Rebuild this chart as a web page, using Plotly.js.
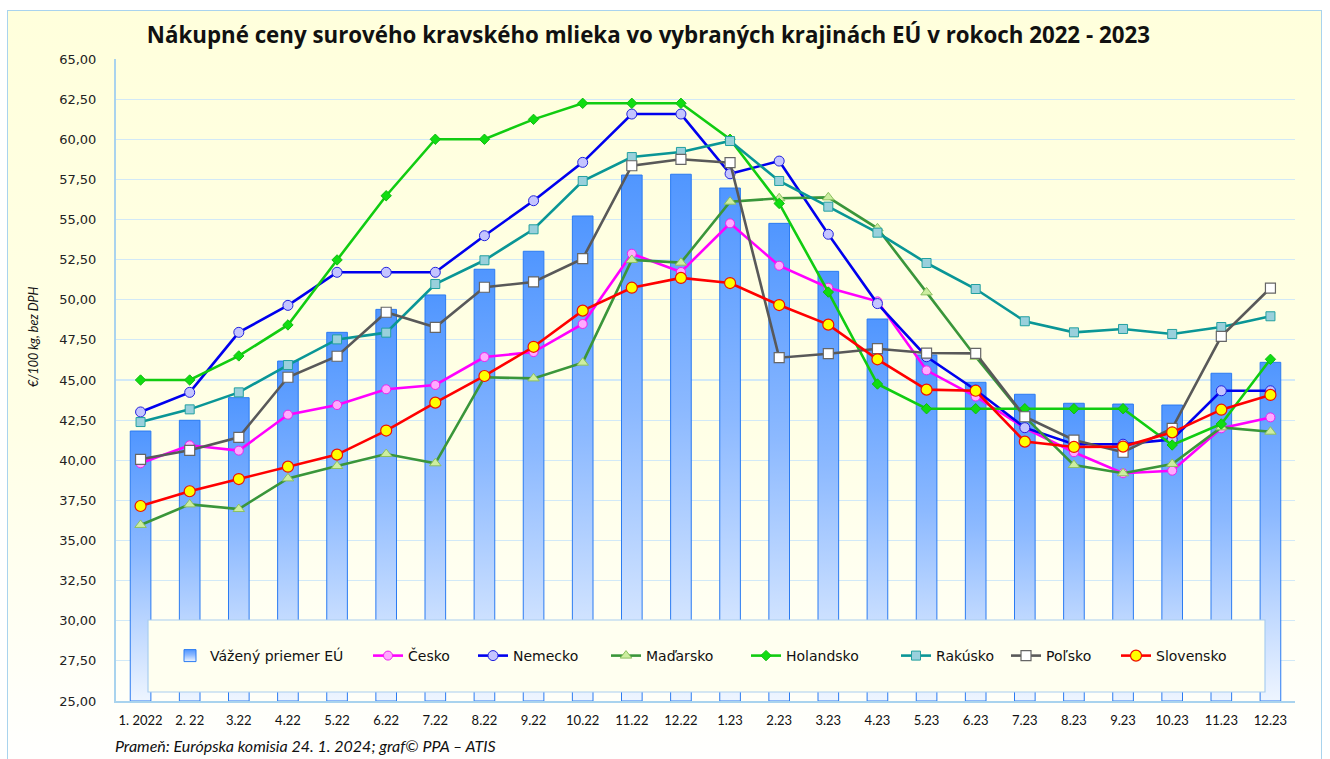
<!DOCTYPE html>
<html>
<head>
<meta charset="utf-8">
<script src="https://cdn.plot.ly/plotly-3.0.1.min.js"></script>
<style>
  html, body { margin:0; padding:0; width:1330px; height:759px; overflow:hidden; background:#ffffff; }
  #frame { position:absolute; left:7px; top:10px; width:1313px; height:760px; border:1px solid #a9d3ee;
           background: linear-gradient(to bottom, #ffffdc 0%, #ffffe6 55%, #fffff6 85%, #ffffff 100%); }
  #chart { position:absolute; left:0; top:0; width:1330px; height:759px; }
</style>
</head>
<body>
<div id="frame"></div>
<div id="chart"></div>
<script>
const months = ["1. 2022","2. 22","3.22","4.22","5.22","6.22","7.22","8.22","9.22","10.22","11.22","12.22",
                "1.23","2.23","3.23","4.23","5.23","6.23","7.23","8.23","9.23","10.23","11.23","12.23"];

const euAvg     = [41.82,42.49,43.90,46.18,47.97,49.40,50.30,51.90,53.02,55.22,57.77,57.82,56.96,54.76,51.77,48.80,46.56,44.86,44.11,43.55,43.50,43.44,45.42,46.10];
const cesko     = [39.81,40.93,40.60,42.84,43.44,44.42,44.69,46.43,46.74,48.49,52.87,51.73,54.76,52.12,50.75,49.90,45.60,43.97,42.00,40.50,39.19,39.35,41.99,42.67];
const nemecko   = [43.01,44.23,47.97,49.65,51.71,51.71,51.71,53.99,56.17,58.56,61.57,61.57,57.85,58.64,54.08,49.76,46.45,44.38,42.03,41.00,41.00,41.30,44.33,44.33];
const madarsko  = [35.97,37.25,36.96,38.87,39.64,40.39,39.81,45.17,45.10,46.08,52.48,52.31,56.11,56.32,56.38,54.45,50.46,46.45,42.70,39.70,39.19,39.77,42.05,41.78];
const holandsko = [45.00,45.00,46.50,48.43,52.48,56.48,60.00,60.00,61.24,62.24,62.24,62.24,60.00,56.00,50.48,44.75,43.21,43.21,43.21,43.21,43.21,40.95,42.26,46.29];
const rakusko   = [42.38,43.17,44.23,45.93,47.53,47.95,50.98,52.46,54.39,57.40,58.89,59.21,59.89,57.40,55.80,54.18,52.29,50.67,48.66,47.97,48.18,47.87,48.30,48.97];
const polsko    = [40.06,40.62,41.43,45.17,46.48,49.22,48.28,50.78,51.11,52.56,58.35,58.75,58.54,46.39,46.64,46.95,46.68,46.66,42.71,41.26,40.50,41.99,47.72,50.73];
const slovensko = [37.15,38.07,38.83,39.60,40.35,41.85,43.59,45.25,47.07,49.32,50.75,51.36,51.04,49.67,48.45,46.29,44.40,44.33,41.16,40.83,40.85,41.74,43.15,44.07];

const seriesNames = ["Vážený priemer EÚ","Česko","Nemecko","Maďarsko","Holandsko","Rakúsko","Poľsko","Slovensko"];
const titleText = "Nákupné ceny surového kravského mlieka vo vybraných krajinách EÚ v rokoch 2022 - 2023";
const yTitle = "€/100 kg, bez DPH";
const sourceText = "Prameň: Európska komisia 24. 1. 2024; graf© PPA – ATIS";

// plot-area pixel geometry
const L = 116, R = 1295, T = 59, B = 701, W = 1330, H = 759;
const px2x = p => (p - L) / (R - L);
const px2y = p => (B - p) / (B - T);

const legendTextStart = [212, 410, 515, 648, 788, 938, 1048, 1158];
const legendKeys = ["legend","legend2","legend3","legend4","legend5","legend6","legend7","legend8"];

function lineTrace(i, y, color, mk) {
  return {
    type: "scatter", mode: "lines+markers", name: seriesNames[i], x: months, y: y,
    line: { color: color, width: 2.6 },
    marker: mk, legend: legendKeys[i], hoverinfo: "x+y+name"
  };
}

const traces = [
  { type: "bar", name: seriesNames[0], x: months, y: euAvg.map(v => v - 25), base: 25,
    width: 0.42, marker: { color: "#6aa6ff", line: { color: "#2b7bf2", width: 1 } }, legend: legendKeys[0] },
  lineTrace(1, cesko, "#ff00ff", { symbol: "circle", size: 9, color: "#ffaaff", line: { color: "#ee22ee", width: 1 } }),
  lineTrace(2, nemecko, "#0000ee", { symbol: "circle", size: 10, color: "#c4c4ff", line: { color: "#2222dd", width: 1 } }),
  lineTrace(3, madarsko, "#3a963a", { symbol: "triangle-up", size: 10, color: "#cdeea0", line: { color: "#8cc060", width: 1 } }),
  lineTrace(4, holandsko, "#11cc11", { symbol: "diamond", size: 8, color: "#11dd11", line: { color: "#11bb11", width: 1 } }),
  lineTrace(5, rakusko, "#0a9696", { symbol: "square", size: 9, color: "#99d0dc", line: { color: "#22a0a0", width: 1 } }),
  lineTrace(6, polsko, "#595959", { symbol: "square", size: 10, color: "#ffffff", line: { color: "#666666", width: 1.2 } }),
  lineTrace(7, slovensko, "#ff0000", { symbol: "circle", size: 11, color: "#ffff00", line: { color: "#ee1100", width: 1.2 } })
];

const layout = {
  width: W, height: H,
  margin: { l: L, r: W - R, t: T, b: H - B, pad: 0 },
  paper_bgcolor: "rgba(0,0,0,0)", plot_bgcolor: "rgba(0,0,0,0)",
  separators: ",.",
  showlegend: true,
  title: { text: "<b>" + titleText + "</b>", font: { family: "Open Sans", size: 22.3, color: "#111111" },
           x: 0.4875, xanchor: "center", y: 0.953, yanchor: "middle" },
  xaxis: {
    type: "category", range: [-0.5, 23.5], showgrid: false, zeroline: false,
    showline: true, linecolor: "#a9d3ee", linewidth: 2, ticks: "",
    tickfont: { family: "Lato", size: 13, color: "#111111" }, ticklabelstandoff: 6
  },
  yaxis: {
    range: [25, 65], dtick: 2.5, tick0: 25, tickformat: ".2f", showgrid: true, gridcolor: "#d2e9f7", gridwidth: 1.2,
    zeroline: false, showline: true, linecolor: "#a9d3ee", linewidth: 2, ticks: "",
    tickfont: { family: "DejaVu Sans", size: 13, color: "#222222" }, ticklabelstandoff: 15
  },
  bargap: 0.58,
  shapes: [
    { type: "rect", xref: "paper", yref: "paper", layer: "above",
      x0: px2x(148), x1: px2x(1265), y0: px2y(692), y1: px2y(620),
      fillcolor: "#fffff0", line: { color: "#a9cdf0", width: 1.2 } }
  ],
  annotations: [
    { text: "<i>" + sourceText + "</i>", xref: "paper", yref: "paper", x: px2x(113), y: px2y(745),
      xanchor: "left", yanchor: "middle", showarrow: false,
      font: { family: "Lato", size: 16, color: "#111111" } },
    { text: "<i>" + yTitle + "</i>", xref: "paper", yref: "paper", x: px2x(33), y: px2y(337),
      xanchor: "center", yanchor: "middle", showarrow: false, textangle: -90,
      font: { family: "Lato", size: 12.5, color: "#111111" } }
  ]
};

legendKeys.forEach((k, i) => {
  layout[k] = {
    x: px2x(legendTextStart[i] - 42), xanchor: "left", y: px2y(656), yanchor: "middle",
    orientation: "h", bgcolor: "rgba(0,0,0,0)", borderwidth: 0,
    font: { family: "DejaVu Sans", size: 14, color: "#111111" },
    itemwidth: 30
  };
});

Plotly.newPlot("chart", traces, layout, { displayModeBar: false, staticPlot: true }).then(gd => {
  const svg = gd.querySelector("svg.main-svg");
  const ns = "http://www.w3.org/2000/svg";
  let defs = svg.querySelector("defs");
  if (!defs) { defs = document.createElementNS(ns, "defs"); svg.insertBefore(defs, svg.firstChild); }
  const grad = document.createElementNS(ns, "linearGradient");
  grad.setAttribute("id", "barGrad");
  grad.setAttribute("x1", "0"); grad.setAttribute("y1", "0");
  grad.setAttribute("x2", "0"); grad.setAttribute("y2", "1");
  [["0%", "#5096ff"], ["45%", "#8cb9ff"], ["100%", "#eef5ff"]].forEach(([o, c]) => {
    const s = document.createElementNS(ns, "stop");
    s.setAttribute("offset", o); s.setAttribute("stop-color", c);
    grad.appendChild(s);
  });
  defs.appendChild(grad);
  gd.querySelectorAll(".barlayer .point path").forEach(p => { p.style.fill = "url(#barGrad)"; });
  gd.querySelectorAll(".legend .legendpoints path").forEach(p => {
    if (p.style.fill === "rgb(106, 166, 255)") p.style.fill = "url(#barGrad)";
  });
});
</script>
</body>
</html>
